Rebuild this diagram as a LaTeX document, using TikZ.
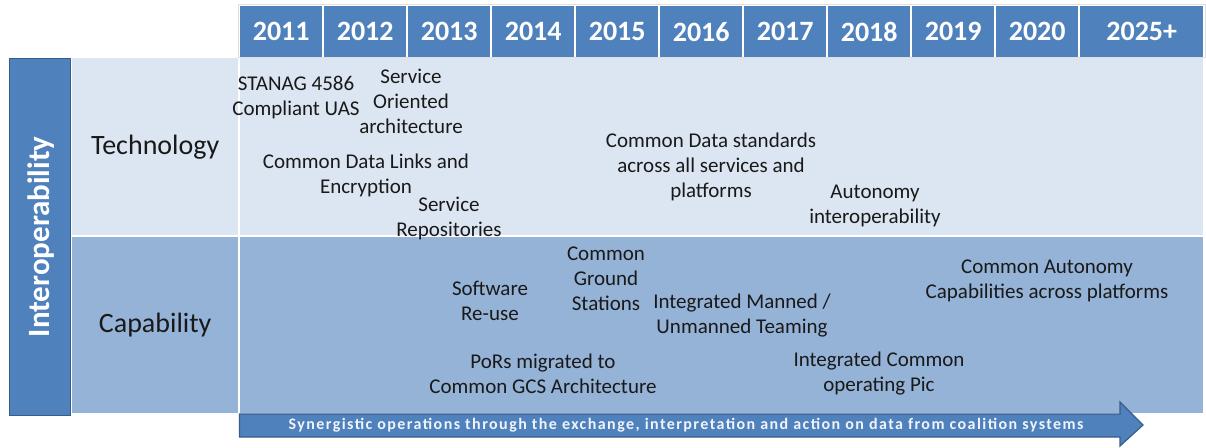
\documentclass[tikz,border=0pt]{standalone}
\usepackage{fontspec}
\setmainfont{Carlito}
\usepackage{tikz}
\definecolor{headblue}{RGB}{79,129,189}
\definecolor{edgeblue}{RGB}{56,93,138}
\definecolor{techfill}{RGB}{220,230,242}
\definecolor{capfill}{RGB}{149,179,215}
\definecolor{darktext}{RGB}{25,25,25}
\usetikzlibrary{positioning, calc}

\tikzset{
    yearbox/.style={fill=headblue, text=white, anchor=north west, inner sep=0pt,
        minimum height=51pt, font=\fontsize{28}{32}\selectfont\bfseries},
    cellbox/.style={anchor=north west, inner sep=0pt, text=darktext},
    rowlab/.style={text=darktext, font=\fontsize{28}{32}\selectfont},
    item/.style={align=center, inner sep=0pt, text=darktext,
        font=\fontsize{21}{25}\selectfont}
}

\begin{document}
\begin{tikzpicture}[x=1pt, y=-1pt]
    \useasboundingbox (0,0) rectangle (1206,447);
    % header frame and years
    \draw[black!12, line width=0.8pt] (238,4) rectangle (1205,57);
    \foreach \yr/\xl/\w [count=\i] in {2011/240/82, 2012/324/82, 2013/408/82,
        2014/492/82, 2015/576/82, 2016/660/82, 2017/744/82, 2018/828/82,
        2019/912/82, 2020/996/82, 2025+/1080/123}
        \node[yearbox, minimum width=\w pt] (yr\i) at (\xl,6) {\yr};

    % side bar
    \node[fill=headblue, draw=edgeblue, line width=1.6pt, anchor=north west,
          minimum width=61pt, minimum height=357pt] (side) at (8.5,57.5) {};
    \node[rotate=90, text=white, font=\fontsize{31}{36}\selectfont\bfseries]
        (sidelab) at ($(side.center)+(1,0)$) {Interoperability};

    % rows
    \node[cellbox, fill=techfill, minimum width=166pt, minimum height=177pt]
        (techlab) at (72,58) {};
    \node[cellbox, fill=techfill, minimum width=963pt, minimum height=177pt]
        (techrow) at (240,58) {};
    \node[cellbox, fill=capfill, minimum width=166pt, minimum height=176pt]
        (caplab) at (72,237) {};
    \node[cellbox, fill=capfill, minimum width=963pt, minimum height=176pt]
        (caprow) at (240,237) {};
    \node[rowlab] at (techlab.center) {Technology};
    \node[rowlab] at (caplab.center) {Capability};

    % technology items
    \node[item] (stanag) at (296,98) {STANAG 4586\\Compliant UAS};
    \node[item] (soa) at (411,101) {Service\\Oriented\\architecture};
    \node[item] (links) at (366,175) {Common Data Links and\\Encryption};
    \node[item] (repos) at (449,218) {Service\\Repositories};
    \node[item] (stds) at (711,167) {Common Data standards\\across all services and\\platforms};
    \node[item] (auton) at (875,206) {Autonomy\\interoperability};

    % capability items
    \node[item] (reuse) at (490,301) {Software\\Re-use};
    \node[item] (ground) at (606,279) {Common\\Ground\\Stations};
    \node[item] (mum) at (742,316) {Integrated Manned /\\Unmanned Teaming};
    \node[item] (autcap) at (1047,281) {Common Autonomy\\Capabilities across platforms};
    \node[item] (pors) at (543,374) {PoRs migrated to\\Common GCS Architecture};
    \node[item] (cop) at (879,374) {Integrated Common\\operating Pic};

    % bottom arrow
    \filldraw[fill=headblue, draw=edgeblue, line width=1.2pt]
        (239.5,414) -- (1120,414) -- (1120,402) -- (1143,425) -- (1120,446)
        -- (1120,437) -- (239.5,437) -- cycle;
    \node[text=white!92!headblue, font=\fontsize{16}{18}\selectfont\bfseries\addfontfeatures{LetterSpace=9}]
        (flow) at (686,425.5)
        {Synergistic operations through the exchange, interpretation and action on data from coalition systems};
\end{tikzpicture}
\end{document}
